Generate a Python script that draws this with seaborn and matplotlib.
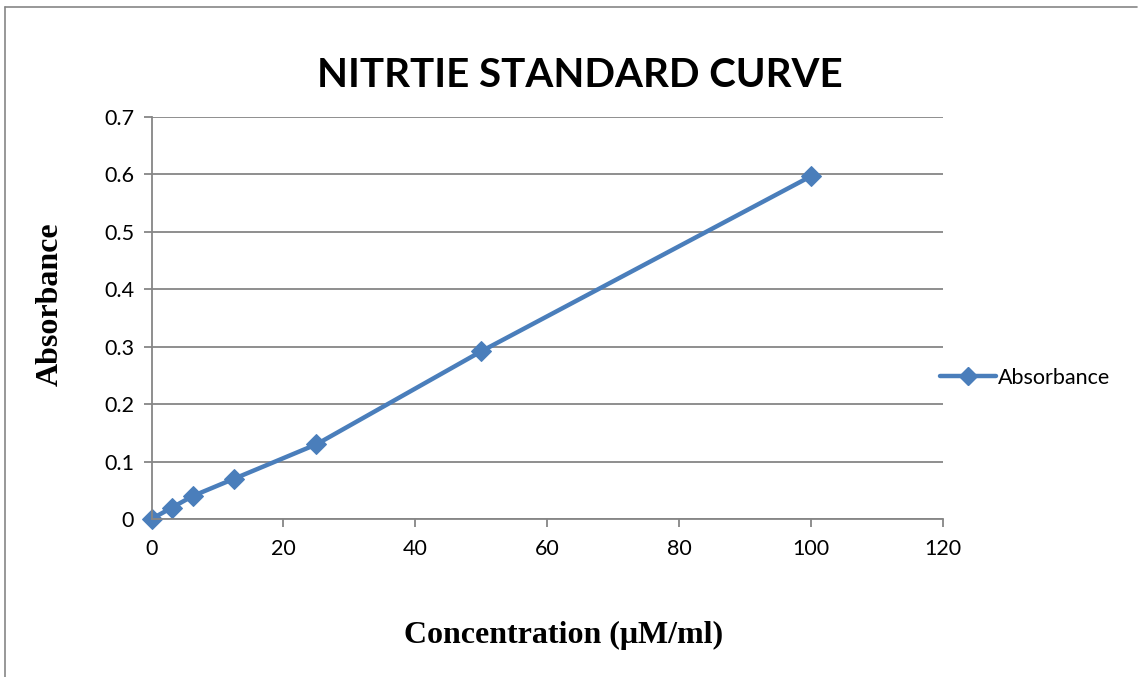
import matplotlib
matplotlib.use("Agg")
import matplotlib.pyplot as plt
import seaborn as sns
import pandas as pd
from matplotlib.lines import Line2D

concentration = [0, 3.125, 6.25, 12.5, 25, 50, 100]
absorbance = [0.0, 0.02, 0.04, 0.07, 0.13, 0.292, 0.597]
x_ticks = [0, 20, 40, 60, 80, 100, 120]
y_ticks = [0, 0.1, 0.2, 0.3, 0.4, 0.5, 0.6, 0.7]
y_tick_labels = ["0", "0.1", "0.2", "0.3", "0.4", "0.5", "0.6", "0.7"]

df = pd.DataFrame({"Concentration": concentration, "Absorbance": absorbance})

sns.set_theme(style="white")
plt.rcParams['font.family'] = ['Lato', 'DejaVu Sans']
plt.rcParams['text.color'] = 'black'

blue = "#4A7EBB"
grid_c = "#868686"

fig = plt.figure(figsize=(11.38, 6.77), dpi=100)
left_px, right_px, top_px, bot_px = 151.5, 943, 117, 519
ax = fig.add_axes([left_px / 1138, 1 - bot_px / 677,
                   (right_px - left_px) / 1138, (bot_px - top_px) / 677])

sns.lineplot(data=df, x="Concentration", y="Absorbance", ax=ax, color=blue,
             linewidth=3.2, marker="D", markersize=10, markeredgecolor=blue,
             markerfacecolor=blue, legend=False, clip_on=False)

ax.set_xlim(0, 120)
ax.set_ylim(0, 0.7)
ax.set_xticks(x_ticks)
ax.set_yticks(y_ticks)
ax.set_yticklabels(y_tick_labels)
ax.tick_params(axis="both", labelsize=15.5, colors=grid_c, labelcolor="black",
               direction="out", length=5.5, width=1.3, left=True, bottom=True)
ax.tick_params(axis="x", pad=9)
ax.tick_params(axis="y", pad=7)
ax.yaxis.grid(True, color=grid_c, linewidth=1.3)
ax.xaxis.grid(False)
for s in ["top", "right"]:
    ax.spines[s].set_visible(False)
for s in ["left", "bottom"]:
    ax.spines[s].set_color(grid_c)
    ax.spines[s].set_linewidth(1.3)
ax.set_axisbelow(True)

ax.set_xlabel("")
ax.set_ylabel("")
fig.text(0.4952, 0.062, "Concentration (μM/ml)", ha="center", va="center",
         fontsize=23, fontweight="bold", color="black",
         family=["Liberation Serif", "DejaVu Serif"])
fig.text(0.044, 0.551, "Absorbance", ha="center", va="center", rotation=90,
         fontsize=23, fontweight="bold", color="black",
         family=["Liberation Serif", "DejaVu Serif"])
fig.text(0.5097, 0.889, "NITRTIE STANDARD CURVE", ha="center", va="center",
         fontsize=29, fontweight="bold", color="black")

handle = Line2D([], [], color=blue, linewidth=3.2, marker="D", markersize=9,
                markerfacecolor=blue, markeredgecolor=blue)
fig.legend([handle], ["Absorbance"], loc="center left",
           bbox_to_anchor=(0.809, 0.442), frameon=False, fontsize=15.5,
           handlelength=2.6, handletextpad=0.1, labelcolor="black")

# chart border
fig.add_artist(Line2D([0.004, 0.999], [0.990, 0.990], color=grid_c, linewidth=1.2,
                      transform=fig.transFigure))
fig.add_artist(Line2D([0.0045, 0.0045], [0.0, 0.990], color=grid_c, linewidth=1.2,
                      transform=fig.transFigure))

fig.savefig("out.png", dpi=100)
